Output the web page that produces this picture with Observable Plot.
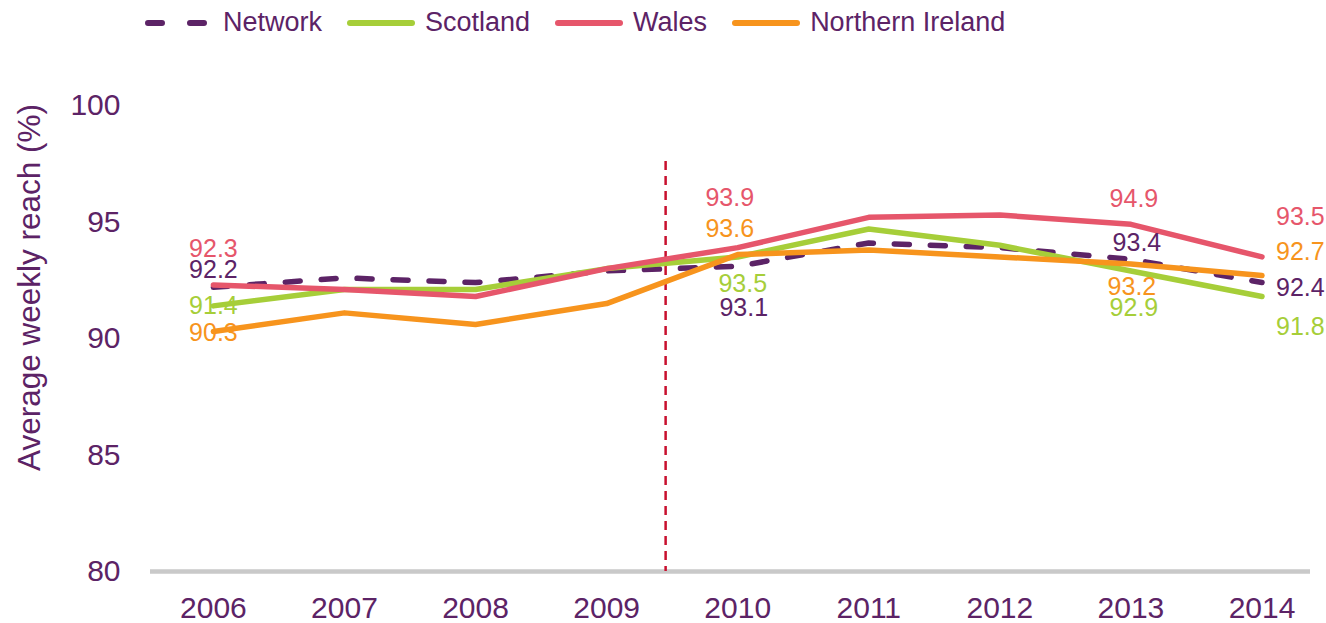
<!DOCTYPE html>
<html>
<head>
<meta charset="utf-8">
<script src="https://cdn.jsdelivr.net/npm/d3@7"></script>
<script src="https://cdn.jsdelivr.net/npm/@observablehq/plot@0.6"></script>
<style>
  html, body { margin: 0; padding: 0; background: #fff; }
  body { width: 1326px; height: 623px; overflow: hidden; font-family: "Liberation Sans", Arial, sans-serif; }
  #legend { height: 45px; display: flex; align-items: center; padding-left: 145px; box-sizing: border-box; }
  .item { display: flex; align-items: center; margin-right: 25px; font-size: 27px; color: #5c2366; }
  .item svg { margin-right: 10px; }
</style>
</head>
<body>
<div id="legend"></div>
<div id="chart"></div>
<script>
// ---- data ----
const years = [2006, 2007, 2008, 2009, 2010, 2011, 2012, 2013, 2014];
const seriesNames = ["Network", "Scotland", "Wales", "Northern Ireland"];
const network = [92.2, 92.6, 92.4, 92.9, 93.1, 94.1, 93.9, 93.4, 92.4];
const scotland = [91.4, 92.1, 92.1, 93.0, 93.5, 94.7, 94.0, 92.9, 91.8];
const wales = [92.3, 92.1, 91.8, 93.0, 93.9, 95.2, 95.3, 94.9, 93.5];
const northernIreland = [90.3, 91.1, 90.6, 91.5, 93.6, 93.8, 93.5, 93.2, 92.7];
const labelYears = [2006, 2010, 2013, 2014];
const yTicks = [80, 85, 90, 95, 100];
const yAxisTitle = "Average weekly reach (%)";
const dividerYear = 2009.45;
const dividerTop = 97.6;

// ---- styles / layout ----
const colors = {"Network": "#5c2366", "Scotland": "#a6ce39", "Wales": "#e6566b", "Northern Ireland": "#f7941d"};
const textColor = "#5c2366";
const labelOffsets = {
  "2006": {"Wales": [0, -36], "Network": [0, -17], "Scotland": [0, 0], "Northern Ireland": [0, 1]},
  "2010": {"Wales": [-8, -50], "Northern Ireland": [-8, -26], "Scotland": [5, 27], "Network": [6, 42]},
  "2013": {"Wales": [3, -25], "Network": [6, -16], "Northern Ireland": [1, 23], "Scotland": [3, 37]},
  "2014": {"Wales": [14, -40], "Northern Ireland": [14, -24], "Network": [14, 5], "Scotland": [14, 30]}
};

const valuesBySeries = {"Network": network, "Scotland": scotland, "Wales": wales, "Northern Ireland": northernIreland};
const rows = seriesNames.flatMap(s => years.map((yr, i) => ({series: s, year: yr, value: valuesBySeries[s][i]})));
const labelRows = rows.filter(d => labelYears.includes(d.year));

// legend
const legend = document.getElementById("legend");
for (const s of seriesNames) {
  const item = document.createElement("div");
  item.className = "item";
  const dashed = s === "Network";
  item.innerHTML = `<svg width="68" height="12"><line x1="3" x2="65" y1="6" y2="6" stroke="${colors[s]}" stroke-width="6" stroke-linecap="round" ${dashed ? 'stroke-dasharray="14,28"' : ''}/></svg><span>${s}</span>`;
  legend.appendChild(item);
}

const lineMarks = seriesNames.map(s => Plot.line(rows.filter(d => d.series === s), {
  x: "year", y: "value", stroke: colors[s], strokeWidth: 5.5,
  strokeLinecap: "round", strokeLinejoin: "round",
  strokeDasharray: s === "Network" ? "15,21" : null
}));

const textMarks = labelRows.map(d => {
  const [dx, dy] = labelOffsets[d.year][d.series];
  return Plot.text([d], {
    x: "year", y: "value", text: d => d.value.toFixed(1),
    dx, dy, fill: colors[d.series], fontSize: 25,
    textAnchor: d.year === 2014 ? "start" : "middle"
  });
});

const chart = Plot.plot({
  width: 1326,
  height: 578,
  marginTop: 60,
  marginBottom: 52,
  marginLeft: 150,
  marginRight: 16,
  style: {fontFamily: "'Liberation Sans', Arial, sans-serif", color: textColor, background: "#fff"},
  x: {type: "linear", domain: [2005.52, 2014.37]},
  y: {domain: [80, 100]},
  marks: [
    Plot.axisY({ticks: yTicks, tickSize: 0, tickPadding: 30, fontSize: 30, label: null, fill: textColor}),
    Plot.text([yAxisTitle], {frameAnchor: "left", textAnchor: "middle", rotate: -90, dx: -121, dy: -51, fontSize: 31.5, fill: textColor}),
    Plot.axisX({ticks: years, tickSize: 0, tickPadding: 25, fontSize: 30, tickFormat: d => String(d), label: null, fill: textColor}),
    Plot.ruleY([80], {stroke: "#c9c9c9", strokeWidth: 4.5}),
    Plot.ruleX([dividerYear], {y1: dividerTop, y2: 80, stroke: "#c8102e", strokeWidth: 2.5, strokeDasharray: "9,6"}),
    ...lineMarks,
    ...textMarks
  ]
});
document.getElementById("chart").appendChild(chart);
</script>
</body>
</html>
